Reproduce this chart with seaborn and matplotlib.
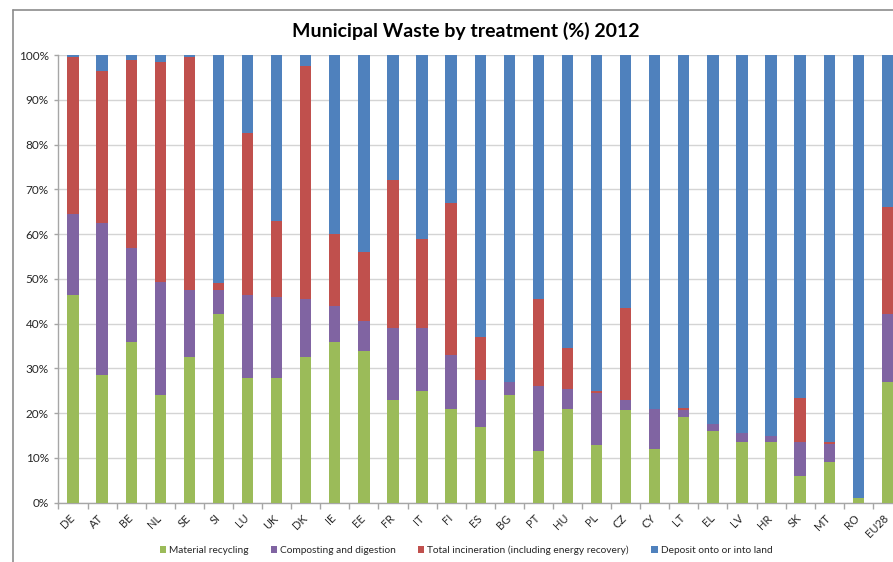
import numpy as np
import pandas as pd
import matplotlib
matplotlib.use("Agg")
import matplotlib.pyplot as plt
from matplotlib.lines import Line2D
from matplotlib.patches import Patch
from matplotlib.ticker import FuncFormatter, FixedLocator
from matplotlib.transforms import ScaledTranslation
import seaborn as sns

countries = ["DE", "AT", "BE", "NL", "SE", "SI", "LU", "UK", "DK", "IE",
             "EE", "FR", "IT", "FI", "ES", "BG", "PT", "HU", "PL", "CZ",
             "CY", "LT", "EL", "LV", "HR", "SK", "MT", "RO", "EU28"]

# shares of municipal waste by treatment, percent
recycling = [46.4, 28.5, 36.0, 24.0, 32.5, 42.1, 27.9, 27.9, 32.5, 36.0,
             34.0, 22.9, 24.9, 21.0, 17.0, 24.0, 11.5, 21.0, 13.0, 20.6,
             12.0, 19.1, 16.0, 13.6, 13.6, 6.0, 9.0, 1.0, 27.0]
composting = [18.1, 34.0, 21.0, 25.4, 15.0, 5.4, 18.5, 18.0, 13.0, 8.0,
              6.5, 16.1, 14.1, 12.0, 10.5, 3.0, 14.5, 4.5, 11.5, 2.3,
              9.0, 1.5, 1.6, 1.9, 1.4, 7.6, 4.1, 0.0, 15.1]
incineration = [35.0, 33.9, 42.0, 49.1, 52.0, 1.5, 36.1, 17.0, 52.0, 16.0,
                15.5, 33.0, 20.0, 34.0, 9.5, 0.0, 19.5, 9.0, 0.5, 20.7,
                0.0, 0.5, 0.0, 0.0, 0.0, 9.9, 0.5, 0.0, 23.9]
landfill = [round(100 - a - b - c, 1) for a, b, c in zip(recycling, composting, incineration)]

series_names = ["Material recycling", "Composting and digestion",
                "Total incineration (including energy recovery)",
                "Deposit onto or into land"]
colors = ["#9BBB59", "#8064A2", "#C0504D", "#4F81BD"]

df = pd.DataFrame({"country": countries,
                   series_names[0]: recycling,
                   series_names[1]: composting,
                   series_names[2]: incineration,
                   series_names[3]: landfill})
cum = df[series_names].cumsum(axis=1)

sns.set_theme(style="white")
plt.rcParams["font.family"] = ["Lato", "DejaVu Sans"]

fig = plt.figure(figsize=(8.93, 5.62), dpi=100)
ax = fig.add_axes([0.0655, 0.1055, 0.9445, 0.7965])

# stacked bars: draw cumulative totals from the top layer down
for name, col in zip(series_names[::-1], colors[::-1]):
    sns.barplot(x=df["country"], y=cum[name], color=col, width=0.39,
                saturation=1, ax=ax, edgecolor="none", zorder=3)

ax.set_xlim(-0.5, len(countries) - 0.5)
ax.set_ylim(0, 100)
ax.set_yticks(np.arange(0, 101, 10))
ax.yaxis.set_major_formatter(FuncFormatter(lambda v, p: f"{int(v)}%"))
ax.grid(axis="y", color="#d4d4d4", linewidth=1, zorder=0)
ax.set_xlabel("")
ax.set_ylabel("")

for s in ["top", "right"]:
    ax.spines[s].set_visible(False)
for s in ["left", "bottom"]:
    ax.spines[s].set_color("#a6a6a6")
    ax.spines[s].set_linewidth(1)

# category labels, rotated and ending just left of each bar centre
ax.set_xticks(range(len(countries)))
ax.set_xticklabels([])
ax.tick_params(axis="x", which="major", length=0)
label_tr = ax.get_xaxis_transform() + ScaledTranslation(-3 / 72, -7 / 72, fig.dpi_scale_trans)
for i, c in enumerate(countries):
    ax.text(i, 0, c, transform=label_tr, rotation=45, ha="right", va="top",
            rotation_mode="anchor", fontsize=8, color="#262626")

ax.xaxis.set_minor_locator(FixedLocator(np.arange(-0.5, len(countries), 1)))
ax.tick_params(axis="x", which="minor", length=4, color="#a6a6a6", width=1, direction="out", bottom=True)
ax.tick_params(axis="y", length=3, color="#a6a6a6", width=1, direction="out", left=True,
               labelsize=8.5, labelcolor="#262626", pad=4)

fig.text(0.521, 0.945, "Municipal Waste by treatment (%) 2012", ha="center", va="center",
         fontsize=14, fontweight="bold", color="#000000")

handles = [Patch(facecolor=c, edgecolor="none") for c in colors]
fig.legend(handles, series_names, loc="center", bbox_to_anchor=(0.522, 0.021), ncol=4,
           frameon=False, fontsize=7.3, handlelength=0.6, handleheight=0.6,
           handletextpad=0.3, columnspacing=2.2, labelcolor="#262626")

# chart area border
fig.add_artist(Line2D([13 / 893, 1.0], [1 - 10 / 562, 1 - 10 / 562], transform=fig.transFigure,
                      color="#8c8c8c", linewidth=1.2))
fig.add_artist(Line2D([13 / 893, 13 / 893], [0.0, 1 - 10 / 562], transform=fig.transFigure,
                      color="#8c8c8c", linewidth=1.2))

fig.savefig("out.png", dpi=100, facecolor="white")
